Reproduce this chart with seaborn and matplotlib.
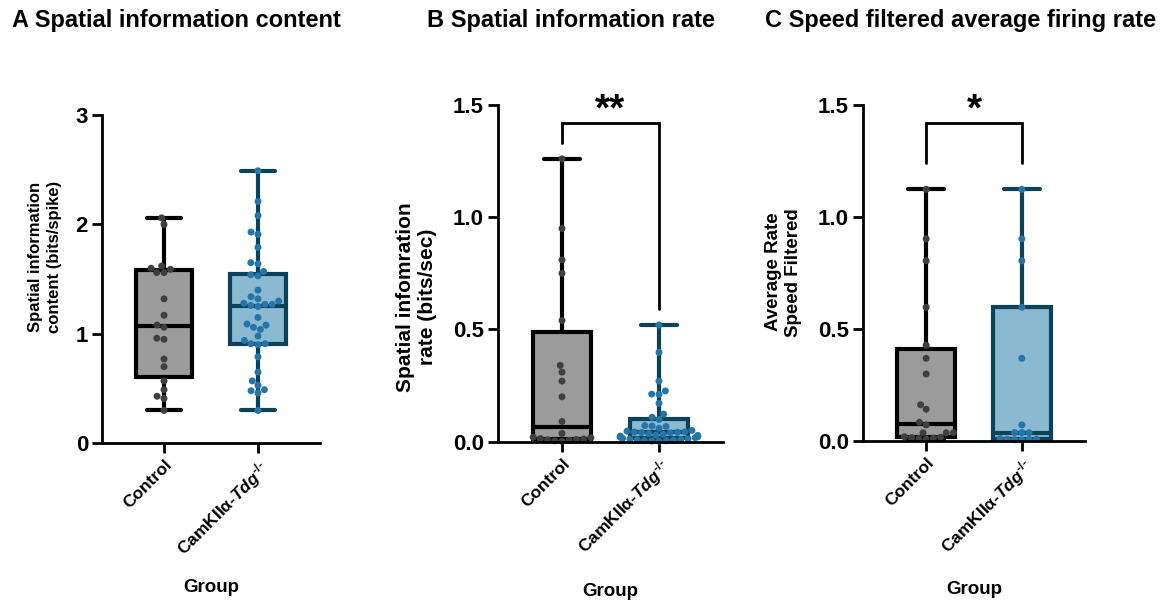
import numpy as np
import pandas as pd
import matplotlib
matplotlib.use("Agg")
import matplotlib.pyplot as plt
from matplotlib.transforms import blended_transform_factory
import seaborn as sns

# ---- data -------------------------------------------------------------
groups = ["Control", "CamKIIa-Tdg"]
tick_labels = ["Control", "CamKIIα-$\\mathit{Tdg}^{\\text{-/-}}$"]

# spatial information content (bits/spike)
sic_control = [2.06, 2.00, 1.62, 1.60, 1.59, 1.56, 1.56, 1.32, 1.17, 1.08,
               1.06, 0.96, 0.95, 0.77, 0.70, 0.57, 0.49, 0.43, 0.41, 0.30]
sic_tdg = [2.49, 2.21, 2.08, 1.93, 1.91, 1.79, 1.65, 1.64, 1.57, 1.54,
           1.53, 1.40, 1.34, 1.32, 1.30, 1.28, 1.27, 1.27, 1.26, 1.25,
           1.15, 1.09, 1.08, 1.06, 1.04, 0.98, 0.94, 0.91, 0.91, 0.90,
           0.79, 0.65, 0.57, 0.53, 0.49, 0.48, 0.46, 0.30]

# spatial information rate (bits/sec)
sir_control = [1.26, 0.95, 0.81, 0.75, 0.54, 0.34, 0.31, 0.27, 0.20, 0.09,
               0.037, 0.020, 0.018, 0.014, 0.012, 0.010, 0.008, 0.006,
               0.004, 0.002]
sir_tdg = [0.52, 0.398, 0.270, 0.226, 0.212, 0.211, 0.171, 0.123, 0.109,
           0.099, 0.072, 0.070, 0.068, 0.060, 0.050, 0.047, 0.044, 0.043,
           0.042, 0.041, 0.040, 0.036, 0.033, 0.030, 0.028, 0.025, 0.022,
           0.020, 0.018, 0.015, 0.013, 0.012, 0.010, 0.008, 0.007, 0.005,
           0.004, 0.003, 0.002]

# speed filtered average firing rate
rate_control = [1.124, 0.903, 0.805, 0.598, 0.428, 0.37, 0.30, 0.163, 0.143,
                0.085, 0.073, 0.038, 0.038, 0.038, 0.020, 0.018, 0.016,
                0.014, 0.012, 0.010]
rate_tdg = [1.124, 0.903, 0.805, 0.598, 0.37, 0.073, 0.039, 0.039, 0.039,
            0.012, 0.010, 0.009, 0.008, 0.007, 0.006]

titles = ["A Spatial information content", "B Spatial information rate",
          "C Speed filtered average firing rate"]
ylabels = ["Spatial information\ncontent (bits/spike)",
           "Spatial infomration\nrate (bits/sec)",
           "Average Rate\nSpeed Filtered"]

# ---- style ------------------------------------------------------------
sns.set_style("ticks")
plt.rcParams["font.family"] = ["Liberation Sans", "DejaVu Sans"]
plt.rcParams["font.weight"] = "bold"
plt.rcParams["text.color"] = "black"
plt.rcParams["axes.labelcolor"] = "black"
plt.rcParams["xtick.color"] = "black"
plt.rcParams["ytick.color"] = "black"
plt.rcParams["mathtext.fontset"] = "custom"
plt.rcParams["mathtext.rm"] = "Liberation Sans:bold"
plt.rcParams["mathtext.bf"] = "Liberation Sans:bold"
plt.rcParams["mathtext.it"] = "Liberation Sans:italic:bold"

fills = ["#9b9b9b", "#8cb9d2"]
edges = ["#000000", "#0b4259"]
dots = ["#3f3f3f", "#2476a8"]
LW = 3.0

fig = plt.figure(figsize=(11.76, 6.01), dpi=100)
W, H = 1176, 601


def add_axes_px(x0, x1, ytop, ybot):
    return fig.add_axes([x0 / W, 1 - ybot / H, (x1 - x0) / W, (ybot - ytop) / H])


axes = [add_axes_px(102, 320, 115, 443.3),
        add_axes_px(498, 723, 105, 441.7),
        add_axes_px(863, 1085, 105, 441.3)]


def draw_panel(ax, ctrl, tdg, ymax, yticks, yfmt):
    df = pd.DataFrame({"Group": [groups[0]] * len(ctrl) + [groups[1]] * len(tdg),
                       "value": ctrl + tdg})
    sns.swarmplot(data=df, x="Group", y="value", hue="Group", order=groups,
                  hue_order=groups, palette=dots, size=5.0, linewidth=0,
                  legend=False, ax=ax, zorder=4, clip_on=False)
    for i, vals in enumerate([ctrl, tdg]):
        q1, med, q3 = np.percentile(vals, [25, 50, 75], method="weibull")
        stats = [dict(med=med, q1=q1, q3=q3, whislo=min(vals), whishi=max(vals),
                      fliers=[])]
        ax.bxp(stats, positions=[i], widths=0.6, capwidths=0.37,
               patch_artist=True, showfliers=False, manage_ticks=False,
               boxprops=dict(facecolor=fills[i], edgecolor=edges[i], linewidth=LW),
               whiskerprops=dict(color=edges[i], linewidth=LW),
               capprops=dict(color=edges[i], linewidth=LW, solid_capstyle="round"),
               medianprops=dict(color=edges[i], linewidth=LW))
    ax.set_xlim(-0.66, 1.66)
    ax.set_ylim(0, ymax)
    ax.set_yticks(yticks)
    ax.set_yticklabels([yfmt.format(t) for t in yticks], fontsize=16, fontweight="bold")
    ax.set_xticks([0, 1])
    ax.set_xticklabels(tick_labels, rotation=45, ha="right",
                       rotation_mode="anchor", fontsize=12.5, fontweight="bold")
    ax.set_xlabel("")
    sns.despine(ax=ax)
    for s in ("left", "bottom"):
        ax.spines[s].set_linewidth(2.0)
        ax.spines[s].set_color("black")
        ax.spines[s].set_zorder(5)
    ax.tick_params(axis="both", length=7, width=2.0, color="black", pad=3)
    ax.patch.set_alpha(0)


draw_panel(axes[0], sic_control, sic_tdg, 3, [0, 1, 2, 3], "{:g}")
draw_panel(axes[1], sir_control, sir_tdg, 1.5, [0, 0.5, 1.0, 1.5], "{:.1f}")
draw_panel(axes[2], rate_control, rate_tdg, 1.5, [0, 0.5, 1.0, 1.5], "{:.1f}")

# axis labels (each panel has its own label size)
label_pos = [(-0.183, 0.567), (-0.271, 0.43), (-0.275, 0.503)]
label_size = [12.0, 15.0, 13.5]
label_spacing = [1.35, 1.2, 1.2]
for ax, lab, (lx, ly), fs, ls in zip(axes, ylabels, label_pos, label_size,
                                     label_spacing):
    ax.set_ylabel(lab, fontsize=fs, fontweight="bold", linespacing=ls)
    ax.yaxis.set_label_coords(lx, ly)

group_y = [588, 592, 590]
for ax, gy in zip(axes, group_y):
    tr = blended_transform_factory(ax.transAxes, fig.transFigure)
    ax.text(0.5, 1 - gy / H, "Group", transform=tr, ha="center", va="center",
            fontsize=13.5, fontweight="bold")

# panel titles
for x, t in zip([12, 427, 765], titles):
    fig.text(x / W, 1 - 20 / H, t, ha="left", va="center", fontsize=17,
             fontweight="bold")


# significance brackets
def bracket(ax, y_left, y_top, y_right, mark):
    ax.plot([0, 0, 1, 1], [y_left, y_top, y_top, y_right], color="black",
            lw=2.0, clip_on=False, solid_joinstyle="miter", zorder=6)
    ax.text(0.5, 1.43, mark, ha="center", va="baseline", fontsize=28,
            fontweight="bold", clip_on=False)


bracket(axes[1], 1.33, 1.42, 0.59, "**")
bracket(axes[2], 1.24, 1.42, 1.24, "*")

fig.savefig("out.png", dpi=100)
